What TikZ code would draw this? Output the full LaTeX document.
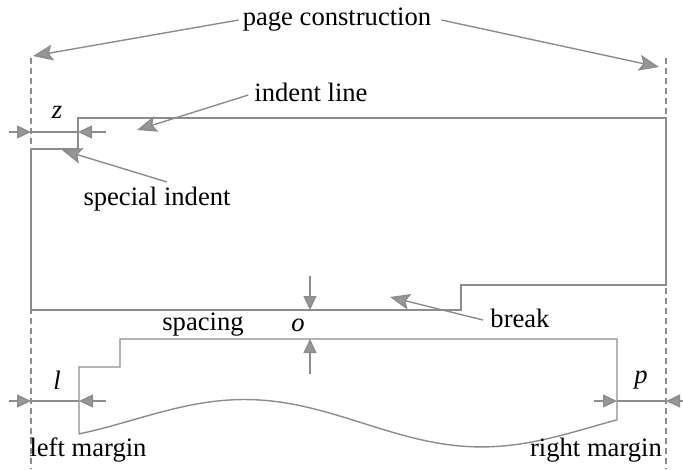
\documentclass[tikz,border=0pt]{standalone}
\usepackage{fontspec}
\setmainfont{Liberation Serif}
\usetikzlibrary{arrows.meta}
\definecolor{ln}{HTML}{8C8C8C}
\definecolor{ah}{HTML}{969696}
\begin{document}
\begin{tikzpicture}[x=1pt,y=-1pt,
  lbl/.style={inner sep=0pt,font=\fontsize{26.6}{30}\selectfont},
  shapeline/.style={draw=ln,line width=1.4pt},
  guide/.style={draw=ln,line width=1.3pt,dash pattern=on 6pt off 4pt},
  dimline/.style={draw=ln,line width=1.4pt},
  pointer/.style={draw=ln,line width=1.4pt,-{Stealth[length=20pt,width=16pt,inset=4pt,fill=ah]}},
  dimarrow/.style={draw=ln,line width=1.4pt,-{Triangle[length=14pt,width=13pt,fill=ah]}}]
\useasboundingbox (0,0) rectangle (683,469);
% guides
\coordinate (gl1) at (31,58); \coordinate (gl2) at (31,469);
\coordinate (gr1) at (666,58); \coordinate (gr2) at (666,469);
\draw[guide] (gl1) -- (gl2);
\draw[guide] (gr1) -- (gr2);
% upper block
\draw[shapeline] (78,118) -- (666,118) -- (666,285) -- (461,285) -- (461,310) -- (31,310) -- (31,149) -- (78,149) -- cycle;
% lower block
\draw[shapeline] (79,434) -- (79,367) -- (120,367) -- (120,339) -- (617,339) -- (617,419)
  -- plot[domain=617:79,samples=90,smooth] (\x,{423-22*cos((\x-248)*0.78261)+0.0145*(\x-348)}) -- cycle;
% labels
\node[lbl] (pc) at (337,20) {page construction};
\node[lbl] (il) at (311,92) {indent line};
\node[lbl] (si) at (157,199) {special indent};
\node[lbl] (br) at (520,318) {break};
\node[lbl] (sp) at (203,325) {spacing};
\node[lbl] (lm) at (88,450) {left margin};
\node[lbl] (rm) at (596,450) {right margin};
\node[lbl] (z) at (57,112) {\itshape z};
\node[lbl] (o) at (298,325) {\itshape o};
\node[lbl] (l) at (57,380) {\itshape l};
\node[lbl] (p) at (641,380) {\itshape p};
% pointer arrows
\coordinate (pcL) at (33,56); \coordinate (pcR) at (659,67);
\draw[pointer] ([xshift=-4pt]pc.west) -- (pcL);
\draw[pointer] ([xshift=10pt]pc.east) -- (pcR);
\coordinate (ilT) at (137,130);
\draw[pointer] ([xshift=-6pt,yshift=-3pt]il.west) -- (ilT);
\coordinate (siS) at (167,182); \coordinate (siT) at (62,150);
\draw[pointer] (siS) -- (siT);
\coordinate (brS) at (483,320); \coordinate (brT) at (390,297);
\draw[pointer] (brS) -- (brT);
% z dimension
\coordinate (z1) at (9,132); \coordinate (z2) at (31,132);
\coordinate (z3) at (106,132); \coordinate (z4) at (78,132);
\draw[dimline] (z2) -- (z4);
\draw[dimarrow] (z1) -- (z2);
\draw[dimarrow] (z3) -- (z4);
% o dimension
\coordinate (o1) at (310,276); \coordinate (o2) at (310,310);
\coordinate (o3) at (310,374); \coordinate (o4) at (310,339);
\draw[dimarrow] (o1) -- (o2);
\draw[dimarrow] (o3) -- (o4);
% l dimension
\coordinate (l1) at (9,401); \coordinate (l2) at (31,401);
\coordinate (l3) at (106,401); \coordinate (l4) at (79,401);
\draw[dimline] (l2) -- (l4);
\draw[dimarrow] (l1) -- (l2);
\draw[dimarrow] (l3) -- (l4);
% p dimension
\coordinate (p1) at (594,401); \coordinate (p2) at (617,401);
\coordinate (p3) at (683,401); \coordinate (p4) at (666,401);
\draw[dimline] (p2) -- (p4);
\draw[dimarrow] (p1) -- (p2);
\draw[dimarrow] (p3) -- (p4);
\end{tikzpicture}
\end{document}
